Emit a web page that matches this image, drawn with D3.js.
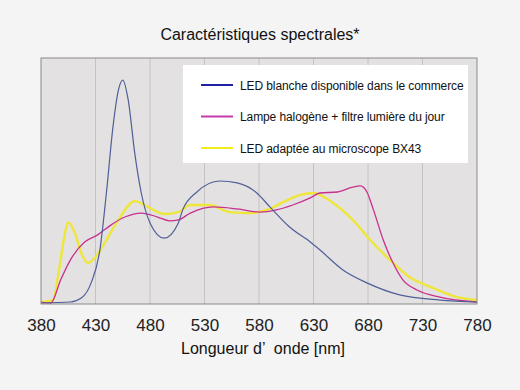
<!DOCTYPE html>
<html>
<head>
<meta charset="utf-8">
<script src="https://cdn.jsdelivr.net/npm/d3@7"></script>
<style>
  body { margin: 0; background: #f4f4f4; }
  svg { display: block; font-family: "Liberation Sans", Arial, sans-serif; }
</style>
</head>
<body>
<svg id="chart" width="520" height="390"></svg>
<script>
// wavelengths (nm) and relative intensity
const blueWl  = [380, 407, 417, 426, 434, 440, 446, 451, 455, 460, 466, 472, 480, 493, 506, 510, 523, 544, 560, 578, 590, 608, 627, 636, 657, 679, 709, 746, 780];
const blueVal = [0, 0.4, 2, 8.2, 21.6, 44.9, 71.8, 86.9, 91, 82.9, 61.2, 44.9, 32.7, 26.5, 32.7, 38, 45.3, 49.8, 49, 44.9, 39.2, 31, 24.9, 21.6, 13.5, 8.2, 3.3, 1.2, 0.4];

const magentaWl  = [380, 389, 398, 407, 420, 432, 444, 457, 472, 487, 498, 506, 517, 538, 560, 581, 596, 611, 627, 636, 652, 666, 673, 679, 685, 694, 703, 712, 725, 746, 780];
const magentaVal = [0.4, 0, 9.4, 17.6, 24.9, 27.8, 31.8, 35.1, 36.7, 35.1, 33.5, 33.9, 36.7, 39.2, 38.4, 37.1, 38, 40, 42.9, 44.9, 45.3, 47.3, 47.8, 45.3, 38, 25.7, 16.3, 9.4, 5.3, 2.4, 0.4];

const yellowWl  = [380, 391, 397, 402, 405, 411, 417, 423, 430, 440, 451, 466, 478, 493, 506, 517, 535, 553, 572, 587, 606, 618, 630, 648, 666, 682, 700, 718, 740, 762, 780];
const yellowVal = [0.4, 1.2, 14.7, 28.6, 33, 28.6, 20.4, 16.3, 18.8, 25.7, 33.9, 41.6, 39.2, 36.3, 37.1, 40, 40, 37.1, 36.7, 38, 42, 44.1, 44.9, 40.8, 33.9, 25.7, 17.6, 10.6, 6.1, 2.4, 1.2];

const xTicks = [380, 430, 480, 530, 580, 630, 680, 730, 780];
const legendLabels = [
  "LED blanche disponible dans le commerce",
  "Lampe halogène + filtre lumière du jour",
  "LED adaptée au microscope BX43"
];

const svg = d3.select("#chart");
const plotLeft = 41, plotRight = 477, plotTop = 58, plotBottom = 304;

const x = d3.scaleLinear().domain([380, 780]).range([plotLeft, plotRight]);
const y = d3.scaleLinear().domain([0, 100]).range([plotBottom - 1, plotTop]);

// plot background
svg.append("rect")
  .attr("x", plotLeft).attr("y", plotTop)
  .attr("width", plotRight - plotLeft).attr("height", plotBottom - plotTop)
  .attr("fill", "#e3e1e1");

// vertical grid lines
svg.append("g")
  .selectAll("line")
  .data(xTicks.slice(1, -1))
  .join("line")
  .attr("x1", d => x(d)).attr("x2", d => x(d))
  .attr("y1", plotTop).attr("y2", plotBottom)
  .attr("stroke", "#c4c2c2")
  .attr("stroke-width", 1);

// x axis labels
const xAxis = d3.axisBottom(x).tickValues(xTicks).tickSize(0).tickPadding(15).tickFormat(d3.format("d"));
svg.append("g")
  .attr("transform", `translate(0,${plotBottom})`)
  .call(xAxis)
  .call(g => g.select(".domain").remove())
  .selectAll("text")
  .attr("font-size", "17px")
  .attr("font-family", "Liberation Sans, Arial, sans-serif")
  .attr("fill", "#222");

// series
const series = [
  { wl: yellowWl, val: yellowVal, color: "#efe63a", width: 2.4 },
  { wl: magentaWl, val: magentaVal, color: "#c8308e", width: 1.3 },
  { wl: blueWl, val: blueVal, color: "#4f5f98", width: 1.2 }
];

const line = d3.line()
  .x(d => x(d[0]))
  .y(d => y(d[1]))
  .curve(d3.curveMonotoneX);

series.forEach(s => {
  svg.append("path")
    .datum(d3.zip(s.wl, s.val))
    .attr("d", line)
    .attr("fill", "none")
    .attr("stroke", s.color)
    .attr("stroke-width", s.width);
});

// plot border
svg.append("rect")
  .attr("x", plotLeft).attr("y", plotTop)
  .attr("width", plotRight - plotLeft).attr("height", plotBottom - plotTop)
  .attr("fill", "none")
  .attr("stroke", "#8a8a8a")
  .attr("stroke-width", 1);

// legend
const legendColors = ["#2020a0", "#c43aac", "#f2ee1c"];
const lg = svg.append("g");
lg.append("rect")
  .attr("x", 183).attr("y", 65)
  .attr("width", 285).attr("height", 98)
  .attr("fill", "#ffffff");

legendLabels.forEach((t, i) => {
  const ly = 85 + i * 31.5;
  lg.append("line")
    .attr("x1", 201).attr("x2", 233)
    .attr("y1", ly).attr("y2", ly)
    .attr("stroke", legendColors[i])
    .attr("stroke-width", 2);
  lg.append("text")
    .attr("x", 240).attr("y", ly + 4.5)
    .attr("font-size", "12px")
    .attr("letter-spacing", "-0.1px")
    .attr("fill", "#111")
    .text(t);
});

// title and axis title
svg.append("text")
  .attr("x", 260).attr("y", 40)
  .attr("text-anchor", "middle")
  .attr("font-size", "16px")
  .attr("fill", "#111")
  .text("Caractéristiques spectrales*");

svg.append("text")
  .attr("x", 263).attr("y", 354)
  .attr("text-anchor", "middle")
  .attr("font-size", "16px")
  .attr("fill", "#111")
  .style("white-space", "pre")
  .text("Longueur d’  onde [nm]");
</script>
</body>
</html>
